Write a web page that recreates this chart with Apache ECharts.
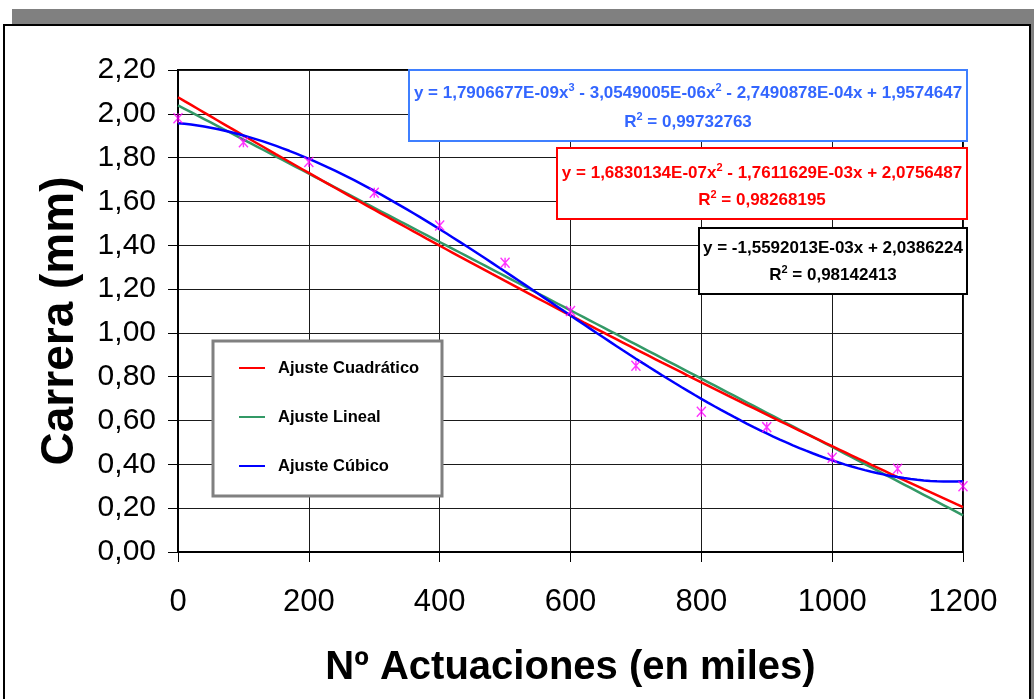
<!DOCTYPE html>
<html>
<head>
<meta charset="utf-8">
<script src="https://cdn.jsdelivr.net/npm/echarts@6/dist/echarts.min.js"></script>
<style>
  html, body { margin: 0; padding: 0; background: #ffffff; }
  #chart { width: 1034px; height: 699px; }
</style>
</head>
<body>
<div id="chart"></div>
<script>
// Measured stroke (mm) against number of actuations (thousands)
const actuaciones = [0, 100, 200, 300, 400, 500, 600, 700, 800, 900, 1000, 1100, 1200];
const carrera = [1.98, 1.87, 1.78, 1.64, 1.49, 1.32, 1.10, 0.85, 0.64, 0.57, 0.43, 0.38, 0.30];

// Fitted trendline coefficients, constant term first
const coefLineal = [2.0386224, -1.5592013e-3];
const coefCuadratico = [2.0756487, -1.7611629e-3, 1.6830134e-7];
const coefCubico = [1.9574647, -2.7490878e-4, -3.0549005e-6, 1.7906677e-9];
const r2Lineal = 0.98142413;
const r2Cuadratico = 0.98268195;
const r2Cubico = 0.99732763;

const seriesNames = ['Ajuste Cuadrático', 'Ajuste Lineal', 'Ajuste Cúbico'];

const FONT = '"Liberation Sans", Arial, Helvetica, sans-serif';

function polyEval(coefs, x) {
  let y = 0;
  for (let i = coefs.length - 1; i >= 0; i--) y = y * x + coefs[i];
  return y;
}

// Trendline evaluated along the x range of the measurements
function trendline(coefs) {
  const pts = [];
  const x0 = actuaciones[0], x1 = actuaciones[actuaciones.length - 1];
  for (let x = x0; x <= x1; x += 10) pts.push([x, polyEval(coefs, x)]);
  return pts;
}

// Number formatting with comma as decimal separator
function fmtSci(v) {
  const parts = Math.abs(v).toExponential(7).split('e');
  const e = parseInt(parts[1], 10);
  return parts[0].replace('.', ',') + 'E' + (e < 0 ? '-' : '+') + String(Math.abs(e)).padStart(2, '0');
}
function fmtFixed(v) { return Math.abs(v).toFixed(7).replace('.', ','); }

// Equation text as rich tokens, highest power first
function equationRich(coefs) {
  let s = '{t|y = ';
  for (let d = coefs.length - 1; d >= 0; d--) {
    const c = coefs[d];
    const first = d === coefs.length - 1;
    if (first) s += (c < 0 ? '-' : '');
    else s += (c < 0 ? ' - ' : ' + ');
    s += d === 0 ? fmtFixed(c) : fmtSci(c);
    if (d >= 1) s += 'x';
    if (d >= 2) s += '}{s|' + d + '}{t|';
  }
  return s + '}';
}
function r2Rich(r2) {
  return '{t|R}{s|2}{t| = ' + r2.toFixed(8).replace('.', ',') + '}';
}

function eqRichStyles(color) {
  return {
    t: { fontSize: 17, fontWeight: 'bold', fontFamily: FONT, fill: color, color: color, lineHeight: 22 },
    s: { fontSize: 11, fontWeight: 'bold', fontFamily: FONT, fill: color, color: color, lineHeight: 12, verticalAlign: 'top' }
  };
}

function eqBox(x, y, w, h, color, border, coefs, r2, y1, y2) {
  const cx = x + w / 2;
  const textStyle = (txt, ty) => ({
    type: 'text', z: 61, silent: true,
    style: {
      text: txt, x: cx, y: ty, rich: eqRichStyles(color),
      align: 'center', verticalAlign: 'middle',
      textAlign: 'center', textVerticalAlign: 'middle',
      fill: color, font: 'bold 17px ' + FONT
    }
  });
  return [
    { type: 'rect', z: 60, silent: true, shape: { x: x, y: y, width: w, height: h },
      style: { fill: '#ffffff', stroke: border, lineWidth: 2 } },
    textStyle(equationRich(coefs), y1),
    textStyle(r2Rich(r2), y2)
  ];
}

const chart = echarts.init(document.getElementById('chart'), null, { renderer: 'canvas' });

const graphics = [].concat(
  [
    // page frame with its drop shadow
    { type: 'rect', z: -20, silent: true, shape: { x: 12, y: 9, width: 1030, height: 700 },
      style: { fill: '#808080' } },
    { type: 'rect', z: -19, silent: true, shape: { x: 4, y: 25, width: 1026, height: 690 },
      style: { fill: '#ffffff', stroke: '#000000', lineWidth: 2 } },
    // legend box
    { type: 'rect', z: 40, silent: true, shape: { x: 213, y: 341, width: 229, height: 155 },
      style: { fill: '#ffffff', stroke: '#808080', lineWidth: 3 } }
  ],
  eqBox(409, 70, 558, 71, '#3366FF', '#3F7FFF', coefCubico, r2Cubico, 93, 122),
  eqBox(557, 148, 410, 71, '#FF0000', '#FF0000', coefCuadratico, r2Cuadratico, 173, 200),
  eqBox(699, 228, 268, 66, '#000000', '#000000', coefLineal, r2Lineal, 248, 275)
);

const option = {
  animation: false,
  backgroundColor: 'transparent',
  textStyle: { fontFamily: FONT },
  grid: {
    left: 178, right: 71, top: 70, bottom: 147,
    show: true, borderColor: '#000000', borderWidth: 2, backgroundColor: 'transparent'
  },
  legend: {
    data: seriesNames,
    orient: 'vertical',
    left: 239, top: 358,
    z: 50,
    padding: 0,
    itemWidth: 26, itemHeight: 2,
    itemGap: 29,
    icon: 'rect',
    selectedMode: false,
    textStyle: { fontSize: 16.5, fontWeight: 'bold', color: '#000000', fontFamily: FONT,
                 lineHeight: 20, padding: [0, 0, 0, 8] }
  },
  xAxis: {
    type: 'value', min: 0, max: 1200, interval: 200,
    name: 'Nº Actuaciones (en miles)',
    nameLocation: 'middle', nameGap: 96,
    nameTextStyle: { fontSize: 40, fontWeight: 'bold', color: '#000000', fontFamily: FONT },
    axisLine: { show: true, onZero: false, lineStyle: { color: '#000000', width: 2 } },
    axisTick: { show: true, length: 10, lineStyle: { color: '#000000', width: 1 } },
    axisLabel: { fontSize: 31, color: '#000000', margin: 35, fontFamily: FONT,
                 formatter: v => String(v) },
    splitLine: { show: true, lineStyle: { color: '#1a1a1a', width: 1 } }
  },
  yAxis: {
    type: 'value', min: 0, max: 2.2, interval: 0.2,
    name: 'Carrera (mm)',
    nameLocation: 'middle', nameGap: 95,
    nameTextStyle: { fontSize: 46, fontWeight: 'bold', color: '#000000', fontFamily: FONT,
                     padding: [0, 20, 0, 0] },
    axisLine: { show: true, onZero: false, lineStyle: { color: '#000000', width: 2 } },
    axisTick: { show: true, length: 10, lineStyle: { color: '#000000', width: 1 } },
    axisLabel: { fontSize: 30, color: '#000000', margin: 22, fontFamily: FONT,
                 formatter: v => v.toFixed(2).replace('.', ',') },
    splitLine: { show: true, lineStyle: { color: '#1a1a1a', width: 1 } }
  },
  series: [
    { name: 'Ajuste Lineal', type: 'line', data: trendline(coefLineal), showSymbol: false,
      color: '#339966', lineStyle: { color: '#339966', width: 2.5 }, z: 3 },
    { name: 'Ajuste Cuadrático', type: 'line', data: trendline(coefCuadratico), showSymbol: false,
      color: '#FF0000', lineStyle: { color: '#FF0000', width: 2.5 }, z: 4 },
    { name: 'Ajuste Cúbico', type: 'line', data: trendline(coefCubico), showSymbol: false,
      color: '#0000FF', lineStyle: { color: '#0000FF', width: 2.5 }, z: 5 },
    { name: 'Carrera', type: 'scatter',
      data: actuaciones.map((x, i) => [x, carrera[i]]),
      symbol: 'path://M0,0L10,10M10,0L0,10M5,0L5,10',
      symbolSize: [9, 10],
      itemStyle: { color: 'rgba(0,0,0,0)', borderColor: '#FF00FF', borderWidth: 1.5 },
      z: 6 }
  ],
  graphic: { elements: graphics }
};

chart.setOption(option);
</script>
</body>
</html>
